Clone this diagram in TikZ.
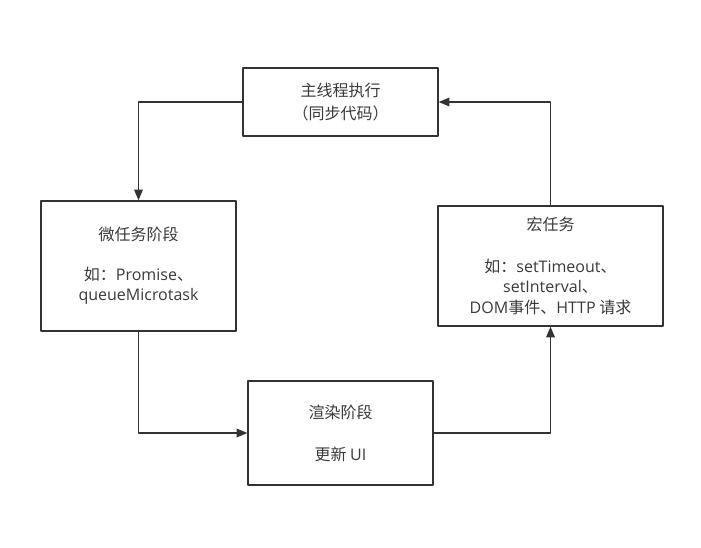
\documentclass[tikz,border=0pt]{standalone}
\usepackage{fontspec}
\setmainfont{Noto Sans CJK SC}
\newfontfamily\latinfont{Open Sans}
\newcommand{\lat}[1]{{\latinfont #1}}
\usetikzlibrary{arrows}
\definecolor{linegray}{HTML}{333333}
\definecolor{textgray}{HTML}{3A3A3A}

\begin{document}
\begin{tikzpicture}[line cap=round,line join=round,>=triangle 45,x=1pt,y=-1pt,
    stage/.style={draw=linegray,line width=1.5pt,fill=white,text=textgray,align=center,
      inner sep=0pt,font=\fontsize{16}{20}\selectfont},
    flow/.style={->,draw=linegray,line width=1.5pt}]
            \useasboundingbox (0,0) rectangle (701,548);
            % stages of the loop
            \node[stage,minimum width=195pt,minimum height=68pt] (main) at (340.5,102) {主线程执行\\[3pt]（同步代码）};
            \node[stage,minimum width=195pt,minimum height=130pt] (micro) at (138.5,266) {微任务阶段\\[20pt]如：\lat{Promise}、\\\lat{queueMicrotask}};
            \node[stage,minimum width=225pt,minimum height=120pt] (macro) at (550.5,266) {宏任务\\[22pt]如：\lat{setTimeout}、\\\lat{setInterval}、\\[1pt]\lat{DOM}事件、\lat{HTTP} 请求};
            \node[stage,minimum width=185pt,minimum height=104pt] (render) at (340.5,433) {渲染阶段\\[22pt]更新 \lat{UI}};
            % connectors
            \draw[flow] (main.west) -| (micro.north);
            \draw[flow] (micro.south) |- (render.west);
            \draw[flow] (render.east) -| (macro.south);
            \draw[flow] (macro.north) |- (main.east);
        \end{tikzpicture}
\end{document}
